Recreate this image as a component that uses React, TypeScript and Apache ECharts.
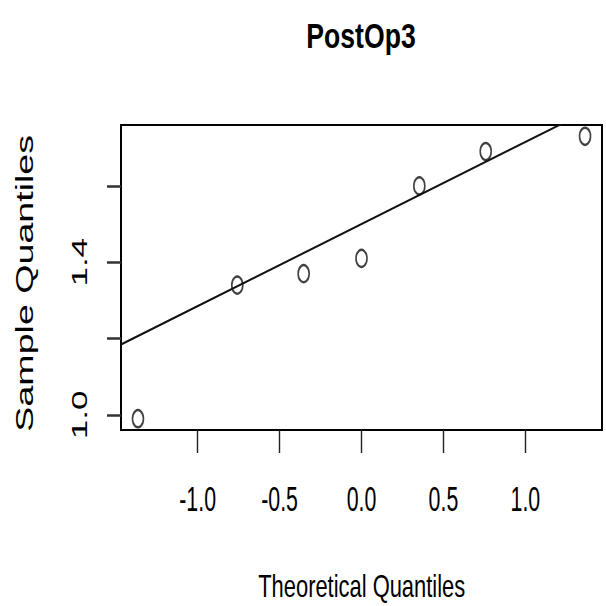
import React, { useEffect, useRef } from "react";
import * as echarts from "echarts";

const chartTitle = "PostOp3";
const xAxisTitle = "Theoretical Quantiles";
const yAxisTitle = "Sample Quantiles";
const theoretical = [-1.364, -0.758, -0.353, 0, 0.353, 0.758, 1.364];
const sample = [0.99, 1.34, 1.37, 1.41, 1.6, 1.69, 1.73];
const xTickValues = [-1, -0.5, 0, 0.5, 1];
const xTickLabels = ["-1.0", "-0.5", "0.0", "0.5", "1.0"];
const yTickValues = [1.0, 1.2, 1.4, 1.6];
const yLabelValues = [1.0, 1.4];
const yTickLabels = ["1.0", "1.4"];
const qqlineIntercept = 1.5;
const qqlineSlope = 0.215;
const xRange = [-1.4675, 1.4675];
const yRange = [0.9604, 1.7596];

const FONT = "'Liberation Sans', Arial, Helvetica, sans-serif";

export default function App() {
  const ref = useRef<HTMLDivElement>(null);
  useEffect(() => {
    document.body.style.margin = "0";
    const chart = echarts.init(ref.current!, null, { renderer: "svg" });
    const points = theoretical.map((x, i) => [x, sample[i]]);
    const lineData = xRange.map((x) => [x, qqlineIntercept + qqlineSlope * x]);
    const gridTop = 125;
    const gridBottom = 176;
    chart.setOption({
      animation: false,
      backgroundColor: "#fff",
      grid: {
        left: 121,
        right: 4,
        top: gridTop,
        bottom: gridBottom,
        show: true,
        borderColor: "#000",
        borderWidth: 2,
        backgroundColor: "transparent",
      },
      xAxis: {
        type: "value",
        min: xRange[0],
        max: xRange[1],
        position: "bottom",
        axisLine: { show: false, onZero: false },
        splitLine: { show: false },
        axisLabel: { show: false },
        axisTick: {
          show: true,
          customValues: xTickValues,
          length: 23,
          lineStyle: { color: "#222", width: 1.4 },
        },
      },
      yAxis: {
        type: "value",
        min: yRange[0],
        max: yRange[1],
        position: "left",
        axisLine: { show: false, onZero: false },
        splitLine: { show: false },
        axisLabel: { show: false },
        axisTick: {
          show: true,
          customValues: yTickValues,
          length: 14,
          lineStyle: { color: "#333", width: 2.5 },
        },
      },
      series: [
        {
          type: "scatter",
          data: points,
          symbol: "emptyCircle",
          symbolSize: [11, 17],
          itemStyle: { color: "#111", borderColor: "#111", borderWidth: 1.6 },
          z: 2,
        },
        {
          type: "line",
          data: lineData,
          showSymbol: false,
          clip: true,
          lineStyle: { color: "#111", width: 2 },
          z: 3,
        },
      ],
    });

    const graphics: any[] = [];
    const h = 606;
    const xLabelY = h - gridBottom + 69;
    xTickValues.forEach((v, i) => {
      const p = chart.convertToPixel({ gridIndex: 0 }, [v, yRange[0]]) as number[];
      graphics.push({
        type: "text",
        x: p[0],
        y: xLabelY,
        scaleX: 0.61,
        style: {
          text: xTickLabels[i],
          fontSize: 35,
          fontFamily: FONT,
          fill: "#000",
          align: "center",
          verticalAlign: "middle",
        },
      });
    });
    yLabelValues.forEach((v, i) => {
      const p = chart.convertToPixel({ gridIndex: 0 }, [xRange[0], v]) as number[];
      graphics.push({
        type: "text",
        x: 79.5,
        y: p[1],
        rotation: Math.PI / 2,
        scaleY: 0.62,
        style: {
          text: yTickLabels[i],
          fontSize: 35,
          fontFamily: FONT,
          fill: "#000",
          align: "center",
          verticalAlign: "middle",
        },
      });
    });
    graphics.push({
      type: "text",
      x: 361,
      y: 36.5,
      scaleX: 0.76,
      style: {
        text: chartTitle,
        fontSize: 35,
        fontWeight: "bold",
        fontFamily: FONT,
        fill: "#000",
        align: "center",
        verticalAlign: "middle",
      },
    });
    graphics.push({
      type: "text",
      x: 361.7,
      y: 587,
      scaleX: 0.707,
      style: {
        text: xAxisTitle,
        fontSize: 31,
        fontFamily: FONT,
        fill: "#000",
        align: "center",
        verticalAlign: "middle",
      },
    });
    graphics.push({
      type: "text",
      x: 25,
      y: 283.3,
      rotation: Math.PI / 2,
      scaleX: 1.106,
      scaleY: 0.68,
      style: {
        text: yAxisTitle,
        fontSize: 34,
        fontFamily: FONT,
        fill: "#000",
        align: "center",
        verticalAlign: "middle",
      },
    });
    chart.setOption({ graphic: graphics });

    return () => chart.dispose();
  }, []);
  return <div ref={ref} style={{ width: 606, height: 606 }} />;
}
